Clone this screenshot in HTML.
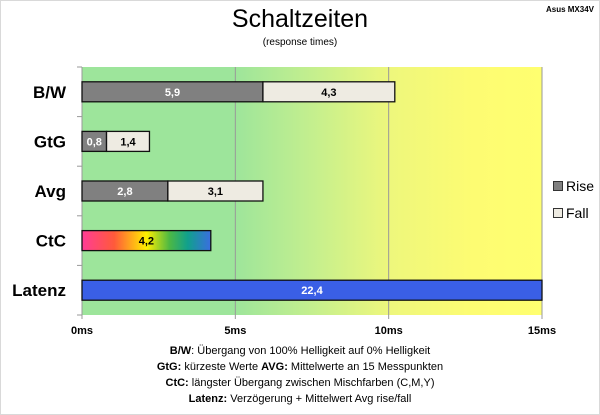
<!DOCTYPE html>
<html><head><meta charset="utf-8"><style>
body{margin:0;background:#fff;}
#c{position:relative;width:600px;height:415px;overflow:hidden;font-family:"Liberation Sans",sans-serif;}
</style></head><body>
<div id="c">
<svg id="s" width="600" height="415" xmlns="http://www.w3.org/2000/svg">
<defs>
<linearGradient id="bg" x1="0" x2="1" y1="0" y2="0">
<stop offset="0" stop-color="#9de59b"/><stop offset="0.33" stop-color="#9de59b"/>
<stop offset="0.5" stop-color="#c4ef8e"/><stop offset="0.67" stop-color="#eef77c"/>
<stop offset="0.85" stop-color="#fdfc72"/><stop offset="1" stop-color="#ffff70"/>
</linearGradient>
<linearGradient id="ctc" x1="0" x2="1" y1="0" y2="0">
<stop offset="0" stop-color="#ff3c96"/><stop offset="0.25" stop-color="#ff5a3a"/>
<stop offset="0.5" stop-color="#ffef00"/><stop offset="0.68" stop-color="#4cb844"/>
<stop offset="0.82" stop-color="#10a08c"/><stop offset="1" stop-color="#3a6ee0"/>
</linearGradient>
</defs>
<rect x="0.5" y="0.5" width="599" height="414" fill="#fff" stroke="#d9d9d9"/>
<text x="300" y="27" font-size="25" text-anchor="middle" fill="#000">Schaltzeiten</text>
<text x="300" y="45" font-size="10" text-anchor="middle">(response times)</text>
<text x="594" y="12" font-size="8" font-weight="bold" text-anchor="end">Asus MX34V</text>
<g id="plot"></g>
<g>
<rect x="553.5" y="181.5" width="9" height="9" fill="#808080" stroke="#333"/>
<text x="566" y="191" font-size="14">Rise</text>
<rect x="553.5" y="208.5" width="9" height="9" fill="#eeebe2" stroke="#333"/>
<text x="566" y="218" font-size="14">Fall</text>
</g>
<g font-size="11" text-anchor="middle">
<text x="300" y="354"><tspan font-weight="bold">B/W</tspan>:  Übergang von 100% Helligkeit auf 0% Helligkeit</text>
<text x="300" y="370"><tspan font-weight="bold">GtG:</tspan> kürzeste Werte      <tspan font-weight="bold">AVG:</tspan> Mittelwerte an 15 Messpunkten</text>
<text x="300" y="386"><tspan font-weight="bold">CtC:</tspan> längster Übergang zwischen Mischfarben (C,M,Y)</text>
<text x="300" y="402"><tspan font-weight="bold">Latenz:</tspan> Verzögerung  + Mittelwert Avg rise/fall</text>
</g>
</svg>
</div>
<script>
const categories = ["B/W","GtG","Avg","CtC","Latenz"];
const riseValues = [5.9,0.8,2.8,null,null];
const fallValues = [4.3,1.4,3.1,null,null];
const singleValues = [null,null,null,4.2,22.4];
const tickValues = [0,5,10,15];
const tickLabels = ["0ms","5ms","10ms","15ms"];
const NS="http://www.w3.org/2000/svg";
const X0=82,X1=542,Y0=67,Y1=315,MAX=15;
const xs=v=>X0+(Math.min(v,MAX)/MAX)*(X1-X0);
const band=(Y1-Y0)/categories.length;
const ys=i=>Y0+band*i+band/2;
const g=document.getElementById('plot');
function mk(t,a){const e=document.createElementNS(NS,t);for(const k in a)e.setAttribute(k,a[k]);g.appendChild(e);return e;}
const bgr=mk('rect',{x:X0,y:Y0,width:X1-X0,height:Y1-Y0,fill:'url(#bg)'});


tickValues.forEach((v,i)=>{
  const gl=mk('line',{x1:xs(v),x2:xs(v),y1:Y0,y2:Y1+4,stroke:'#999','stroke-width':1});
  
  
  const t=mk('text',{x:xs(v),y:334,'font-size':11,'font-weight':'bold','text-anchor':'middle'});
  t.textContent=tickLabels[i];
  
  
});
for(let i=0;i<=categories.length;i++){
  const tk=mk('line',{x1:X0-5,x2:X0,y1:Y0+band*i,y2:Y0+band*i,stroke:'#999'});
  
  
}
const fmt=v=>v.toFixed(1).replace('.',',');
const H=20;
categories.forEach((c,i)=>{
  const cy=ys(i);
  const lb=mk('text',{x:X0-16,y:cy+6,'font-size':17,'font-weight':'bold','text-anchor':'end'});
  lb.textContent=c;
  
  
  function bar(v0,v,fill,tc,name){
    const r=mk('rect',{x:xs(v0),y:cy-H/2,width:xs(v0+v)-xs(v0),height:H,fill:fill,stroke:'#111','stroke-width':1.3});
    
    
    const t=mk('text',{x:(xs(v0)+xs(v0+v))/2,y:cy+4,'font-size':11,'font-weight':'bold','text-anchor':'middle',fill:tc});
    t.textContent=fmt(v);
    
    
  }
  if(riseValues[i]!=null){
    bar(0,riseValues[i],'#808080','#fff','bar-rise-'+i);
    bar(riseValues[i],fallValues[i],'#eeebe2','#000','bar-fall-'+i);
  }
  if(singleValues[i]!=null){
    const isL=c==='Latenz';
    bar(0,singleValues[i],isL?'#3a5fe6':'url(#ctc)',isL?'#fff':'#000','bar-'+c.toLowerCase());
  }
});
</script>
</body></html>
